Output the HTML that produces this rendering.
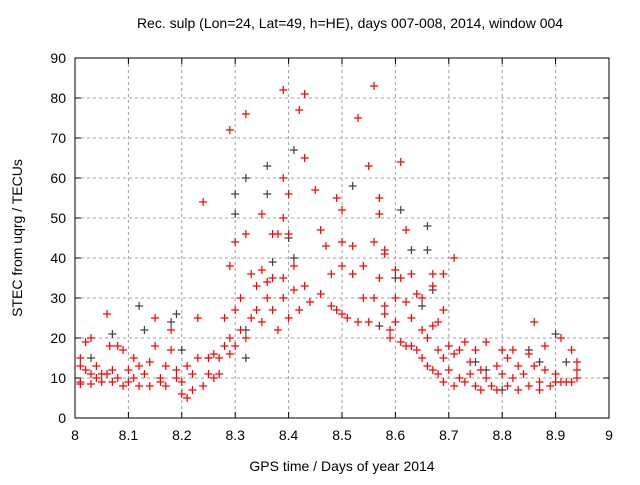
<!DOCTYPE html>
<html><head><meta charset="utf-8"><style>
body{margin:0;background:#fff;}
svg text{font-family:"Liberation Sans",sans-serif;font-size:14px;fill:#000;}
</style></head><body>
<svg id="chart" width="640" height="480">
<rect width="640" height="480" fill="#fff"/>
<g id="grid"></g>
<g id="axes"></g>
<g id="pts"></g>
<text x="350" y="28" text-anchor="middle">Rec. sulp (Lon=24, Lat=49, h=HE), days 007-008, 2014, window 004</text>
<text x="342" y="471" text-anchor="middle">GPS time / Days of year 2014</text>
<text transform="translate(22,238) rotate(-90)" text-anchor="middle">STEC from uqrg / TECUs</text>
</svg>
<script>
const xTicks=[8,8.1,8.2,8.3,8.4,8.5,8.6,8.7,8.8,8.9,9];
const yTicks=[0,10,20,30,40,50,60,70,80,90];
const redX=[8.01,8.01,8.01,8.01,8.02,8.02,8.03,8.03,8.03,8.04,8.04,8.05,8.05,8.06,8.06,8.065,8.07,8.07,8.08,8.08,8.09,8.09,8.1,8.1,8.11,8.11,8.12,8.12,8.13,8.14,8.14,8.15,8.15,8.16,8.16,8.17,8.17,8.18,8.18,8.19,8.19,8.2,8.2,8.21,8.21,8.22,8.22,8.23,8.23,8.24,8.24,8.25,8.25,8.26,8.26,8.27,8.27,8.28,8.28,8.29,8.29,8.29,8.29,8.3,8.3,8.3,8.31,8.31,8.32,8.32,8.32,8.33,8.33,8.34,8.34,8.35,8.35,8.35,8.36,8.36,8.37,8.37,8.37,8.38,8.38,8.39,8.39,8.39,8.39,8.39,8.4,8.4,8.4,8.41,8.41,8.42,8.42,8.43,8.43,8.43,8.44,8.45,8.46,8.46,8.47,8.48,8.48,8.49,8.49,8.5,8.5,8.5,8.5,8.51,8.52,8.52,8.53,8.53,8.54,8.54,8.55,8.55,8.56,8.56,8.56,8.57,8.57,8.57,8.58,8.58,8.58,8.58,8.59,8.59,8.6,8.6,8.6,8.61,8.61,8.61,8.62,8.62,8.62,8.63,8.63,8.63,8.64,8.64,8.65,8.65,8.65,8.66,8.66,8.67,8.67,8.67,8.67,8.68,8.68,8.68,8.69,8.69,8.69,8.69,8.7,8.7,8.71,8.71,8.71,8.72,8.72,8.73,8.73,8.74,8.74,8.75,8.75,8.76,8.76,8.77,8.77,8.78,8.79,8.79,8.8,8.8,8.81,8.81,8.82,8.82,8.83,8.83,8.84,8.85,8.85,8.86,8.86,8.87,8.87,8.88,8.88,8.89,8.9,8.9,8.91,8.91,8.92,8.93,8.93,8.94,8.94,8.94];
const redY=[15,13,9,8.5,12,19,11,20,8.5,13,10,11,9,26,11,18,12,9,18,10,17,8,12,9,15,10,13,8,11,14,8,25,18,10,9,13,8,22,17,10,12,6,9,13,5,11,7,25,15,54,8,15,11,10,16,15,11,18,25,38,72,20,16,27,44,18,22,30,76,46,20,25,36,27,33,51,37,24,34,30,27,46,35,22,46,82,60,50,35,30,56,46,25,32,38,77,27,81,65,33,29,57,47,31,43,28,36,55,27,52,44,38,26,25,36,43,75,24,38,30,24,63,83,44,30,55,51,35,42,41,28,26,22,20,37,30,24,64,35,19,47,29,18,36,25,18,31,17,30,22,15,20,13,36,33,23,12,24,17,11,36,27,15,9,18,12,40,16,8,17,10,19,9,14,11,8,17,12,7,19,10,8,13,7,17,11,8,15,17,10,13,7,11,16,8,24,13,9,7,12,18,8,11,9,20,9,9,17,9,14,10,12];
const greyX=[8.03,8.07,8.12,8.13,8.18,8.19,8.2,8.25,8.3,8.3,8.32,8.32,8.32,8.36,8.36,8.37,8.4,8.41,8.41,8.52,8.57,8.6,8.61,8.63,8.65,8.66,8.66,8.67,8.75,8.77,8.8,8.85,8.87,8.9,8.92];
const greyY=[15,21,28,22,24,26,17,15,51,56,60,22,15,63,56,39,45,67,40,58,23,35,52,42,28,42,48,32,14,12,7,17,14,21,14];
const L=75,R=609,T=58,B=418;
const sx=v=>L+(v-8)*(R-L);
const sy=v=>B-v/90*(B-T);
const NS='http://www.w3.org/2000/svg';
function mk(tag,attrs,parent){const e=document.createElementNS(NS,tag);for(const k in attrs)e.setAttribute(k,attrs[k]);parent.appendChild(e);return e;}
const grid=document.getElementById('grid'),axes=document.getElementById('axes'),pts=document.getElementById('pts');
xTicks.forEach((t,i)=>{const x=sx(t);
 if(i>0&&i<xTicks.length-1){const g=mk('line',{x1:x,x2:x,y1:T,y2:B,stroke:'#a0a0a0','stroke-dasharray':'3,3'},grid);}
 mk('line',{x1:x,x2:x,y1:B,y2:B-6,stroke:'#000'},axes);mk('line',{x1:x,x2:x,y1:T,y2:T+6,stroke:'#000'},axes);
 const tx=mk('text',{x:x,y:B+22,'text-anchor':'middle'},axes);tx.textContent=t===8||t===9?String(t):t.toFixed(1);
 });
yTicks.forEach((t,i)=>{const y=sy(t);
 if(i>0&&i<yTicks.length-1){const g=mk('line',{x1:L,x2:R,y1:y,y2:y,stroke:'#a0a0a0','stroke-dasharray':'3,3'},grid);}
 mk('line',{x1:L,x2:L+6,y1:y,y2:y,stroke:'#000'},axes);mk('line',{x1:R,x2:R-6,y1:y,y2:y,stroke:'#000'},axes);
 const tx=mk('text',{x:L-9,y:y+5,'text-anchor':'end'},axes);tx.textContent=t;
 });
const fr=mk('rect',{x:L,y:T,width:R-L,height:B-T,fill:'none',stroke:'#000'},axes);

function cross(x,y,c,name){const p=mk('path',{d:`M${x-4},${y}H${x+4}M${x},${y-4}V${y+4}`,stroke:c,'stroke-width':1.2,fill:'none'},pts);
 }
greyX.forEach((v,i)=>cross(sx(v),sy(greyY[i]),'#404040','grey-point'));
redX.forEach((v,i)=>cross(sx(v),sy(redY[i]),'#ff0000','red-point'));
</script>
</body></html>
